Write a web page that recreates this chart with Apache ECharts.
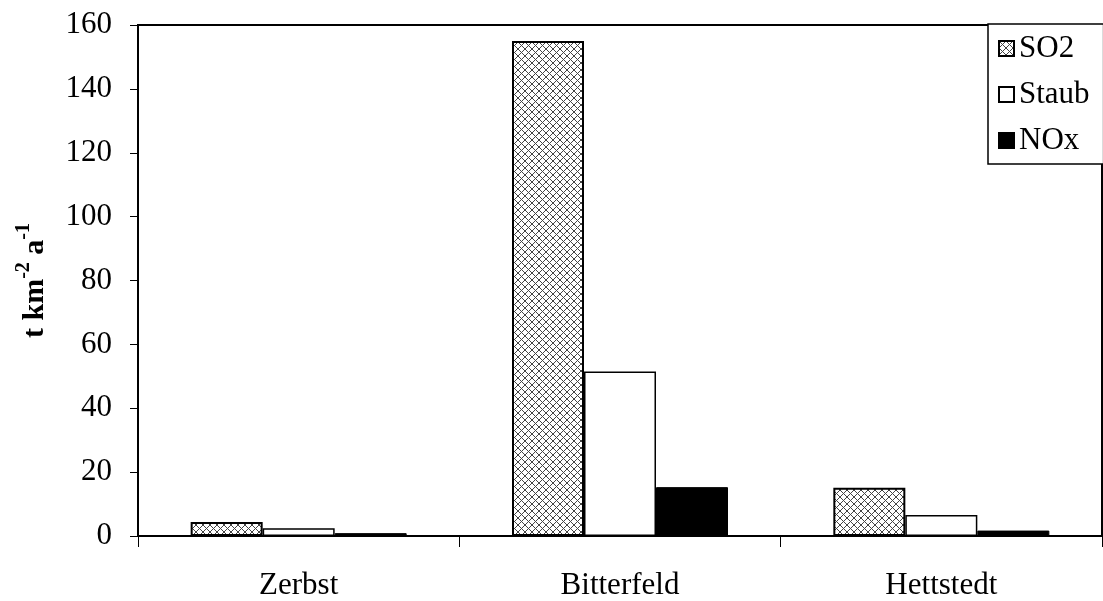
<!DOCTYPE html>
<html>
<head>
<meta charset="utf-8">
<script src="https://cdn.jsdelivr.net/npm/echarts@6/dist/echarts.min.js"></script>
<style>
  html, body { margin: 0; padding: 0; background: #fff; }
  #chart { width: 1103px; height: 601px; }
</style>
</head>
<body>
<div id="chart"></div>
<script>
// Data
const categories = ['Zerbst', 'Bitterfeld', 'Hettstedt']
const so2Values = [4.4, 155, 15.1]
const staubValues = [2.4, 51.5, 6.6]
const noxValues = [0.9, 15.3, 1.7]
const seriesNames = ['SO2', 'Staub', 'NOx']

const FONT = '"Liberation Serif", "Times New Roman", serif'

// crosshatch fill for SO2
const makeHatch = () => {
  const c = document.createElement('canvas')
  c.width = 7
  c.height = 7
  const ctx = c.getContext('2d')
  ctx.fillStyle = '#fff'
  ctx.fillRect(0, 0, 7, 7)
  ctx.strokeStyle = '#444'
  ctx.lineWidth = 1
  ctx.beginPath()
  ctx.moveTo(0, 0); ctx.lineTo(7, 7)
  ctx.moveTo(7, 0); ctx.lineTo(0, 7)
  ctx.stroke()
  return c
}

const chart = echarts.init(document.getElementById('chart'), null, { renderer: 'canvas' })

const barBase = {
  type: 'bar',
  barWidth: 72,
  barGap: '0%',
  animation: false
}

chart.setOption({
  backgroundColor: '#fff',
  textStyle: { fontFamily: FONT },
  grid: {
    left: 138,
    right: 1,
    top: 25,
    bottom: 64,
    show: true,
    borderColor: '#000',
    borderWidth: 2,
    backgroundColor: 'transparent'
  },
  legend: {
    orient: 'vertical',
    left: 988,
    top: 24,
    padding: [9, 14, 8, 10],
    itemGap: 15,
    itemWidth: 15,
    itemHeight: 15,
    icon: 'rect',
    backgroundColor: '#fff',
    borderColor: '#000',
    borderWidth: 1.5,
    textStyle: { fontFamily: FONT, fontSize: 31, color: '#000' },
    data: seriesNames
  },
  xAxis: {
    type: 'category',
    data: categories,
    boundaryGap: true,
    axisLine: { lineStyle: { color: '#000', width: 2 } },
    axisTick: { show: true, length: 11, interval: 0, lineStyle: { color: '#000', width: 1 } },
    axisLabel: { color: '#000', fontFamily: FONT, fontSize: 31, margin: 34 },
    splitLine: { show: false }
  },
  yAxis: {
    type: 'value',
    min: 0,
    max: 160,
    interval: 20,
    name: '{b|t km}{s|-2}{b| a}{s|-1}',
    nameLocation: 'middle',
    nameGap: 88,
    nameRotate: 90,
    nameTextStyle: {
      rich: {
        b: { fontFamily: FONT, fontSize: 30, fontWeight: 'bold', color: '#000', lineHeight: 36, verticalAlign: 'bottom' },
        s: { fontFamily: FONT, fontSize: 20, fontWeight: 'bold', color: '#000', lineHeight: 36, verticalAlign: 'top' }
      }
    },
    axisLine: { show: true, lineStyle: { color: '#000', width: 2 } },
    axisTick: { show: true, length: 8, lineStyle: { color: '#000', width: 1 } },
    axisLabel: { color: '#000', fontFamily: FONT, fontSize: 31, margin: 26 },
    splitLine: { show: false }
  },
  series: [
    Object.assign({}, barBase, {
      name: seriesNames[0],
      data: so2Values,
      itemStyle: { color: { image: makeHatch(), repeat: 'repeat' }, borderColor: '#000', borderWidth: 2 }
    }),
    Object.assign({}, barBase, {
      name: seriesNames[1],
      data: staubValues,
      itemStyle: { color: '#fff', borderColor: '#000', borderWidth: 1.5 }
    }),
    Object.assign({}, barBase, {
      name: seriesNames[2],
      data: noxValues,
      itemStyle: { color: '#000', borderColor: '#000', borderWidth: 1 }
    })
  ]
})
</script>
</body>
</html>
